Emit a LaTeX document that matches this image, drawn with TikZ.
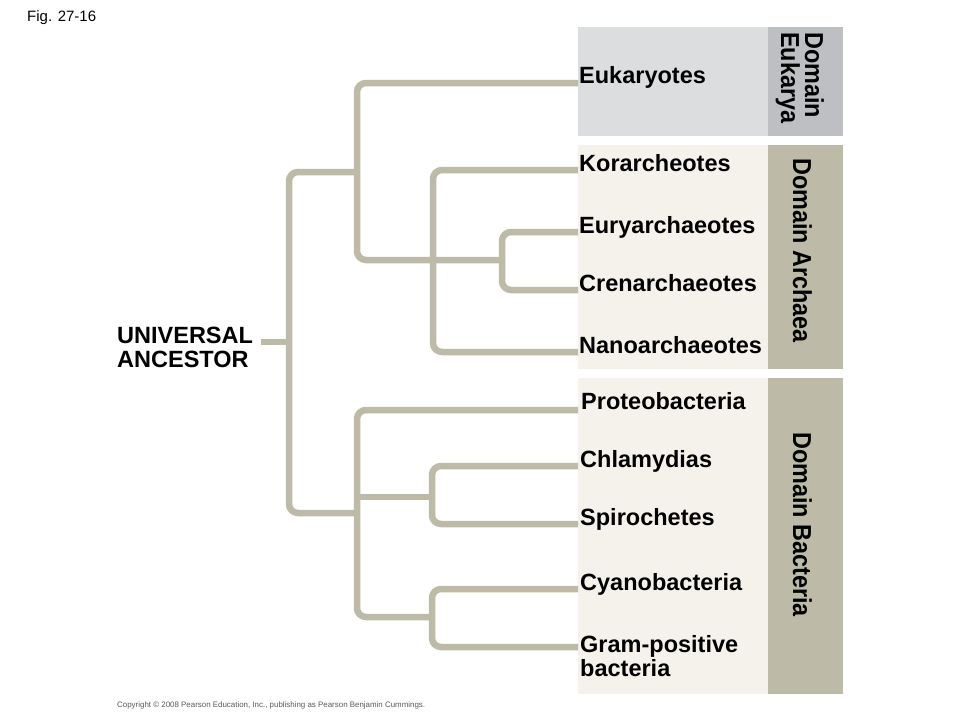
\documentclass[tikz,border=0pt]{standalone}
\usepackage{fontspec}
\setmainfont{Liberation Sans}
\usepackage{graphicx}
\definecolor{branchc}{HTML}{BDBBA8}
\definecolor{eukbox}{HTML}{DCDDDF}
\definecolor{eukstrip}{HTML}{BEBFC3}
\definecolor{creambox}{HTML}{F5F2EB}
\definecolor{khakistrip}{HTML}{BDBBA8}
\definecolor{copyc}{HTML}{5A5A5A}
\newcommand{\domtext}[1]{\scalebox{0.9}[1]{#1}}
\begin{document}
\begin{tikzpicture}[x=1pt,y=-1pt,
  branch/.style={draw=branchc, line width=6.5pt, rounded corners=9pt, line cap=butt},
  lab/.style={inner sep=0pt, anchor=base west, font=\fontsize{23.5}{24}\selectfont\bfseries, align=left},
  domlab/.style={inner sep=0pt, anchor=base west, rotate=-90, font=\fontsize{26}{24}\selectfont\bfseries}]
\useasboundingbox (0,0) rectangle (960,720);
\fill[white] (0,0) rectangle (960,720);
% boxes
\fill[eukbox] (578,27) rectangle (768,136);
\fill[eukstrip] (768,27) rectangle (843,136);
\fill[creambox] (578,145) rectangle (768,369);
\fill[khakistrip] (768,145) rectangle (843,369);
\fill[creambox] (578,378) rectangle (768,694);
\fill[khakistrip] (768,378) rectangle (843,694);
% labels
\node[lab] (euk) at (579,83) {Eukaryotes};
\node[lab] (kor) at (579,171) {Korarcheotes};
\node[lab] (eur) at (579,233) {Euryarchaeotes};
\node[lab] (cre) at (579,291) {Crenarchaeotes};
\node[lab] (nan) at (579,353) {Nanoarchaeotes};
\node[lab] (pro) at (581,409) {Proteobacteria};
\node[lab] (chl) at (580,467) {Chlamydias};
\node[lab] (spi) at (580,525) {Spirochetes};
\node[lab] (cya) at (580,590) {Cyanobacteria};
\node[lab] (gra) at (580,652) {Gram-positive};
\node[lab] (grb) at (580,676) {bacteria};
\node[lab] (uni) at (117,343) {UNIVERSAL};
\node[lab] (anc) at (117,367) {ANCESTOR};
\node[domlab] (deu1) at (805,32) {\domtext{Domain}};
\node[domlab] (deu2) at (781,32) {\domtext{Eukarya}};
\node[domlab] (dar) at (793,158) {\domtext{Domain Archaea}};
\node[domlab] (dba) at (793,432) {\domtext{Domain Bacteria}};
\node[inner sep=0pt, anchor=base west, font=\fontsize{15}{17}\selectfont] (fig) at (27,21) {Fig. 27-16};
\node[inner sep=0pt, anchor=base west, text=copyc] (copy) at (117,707)
  {\resizebox{308pt}{!}{Copyright \textcopyright\ 2008 Pearson Education, Inc., publishing as Pearson Benjamin Cummings.}};
% branch end coordinates
\coordinate (tEuk) at (578,83);
\coordinate (tKor) at (578,170);
\coordinate (tEur) at (578,232);
\coordinate (tCre) at (578,290);
\coordinate (tNan) at (578,352);
\coordinate (tPro) at (578,410);
\coordinate (tChl) at (578,466);
\coordinate (tSpi) at (578,524);
\coordinate (tCya) at (578,589);
\coordinate (tGra) at (578,647);
% internal nodes
\coordinate (root) at (289,342);
\coordinate (stub) at (261,342);
\coordinate (nEA) at (357,172);
\coordinate (nB) at (357,513);
\coordinate (nEC) at (502,260);
\coordinate (nA) at (433,260);
\coordinate (nCS) at (432,497);
\coordinate (nCG) at (432,617);
% tree
\draw[branch] (stub) -- (root);
\draw[branch] (nEA) -- (root |- nEA) -- (root |- nB) -- (nB);
\draw[branch] (tEuk) -- (nEA |- tEuk) -- (nEA |- nEC) -- (nEC);
\draw[branch] (tKor) -- (nA |- tKor) -- (nA |- tNan) -- (tNan);
\draw[branch] (tEur) -- (nEC |- tEur) -- (nEC |- tCre) -- (tCre);
\draw[branch] (tPro) -- (nB |- tPro) -- (nB |- nCG) -- (nCG);
\draw[branch] (nB |- nCS) -- (nCS);
\draw[branch] (tChl) -- (nCS |- tChl) -- (nCS |- tSpi) -- (tSpi);
\draw[branch] (tCya) -- (nCG |- tCya) -- (nCG |- tGra) -- (tGra);
\end{tikzpicture}
\end{document}
